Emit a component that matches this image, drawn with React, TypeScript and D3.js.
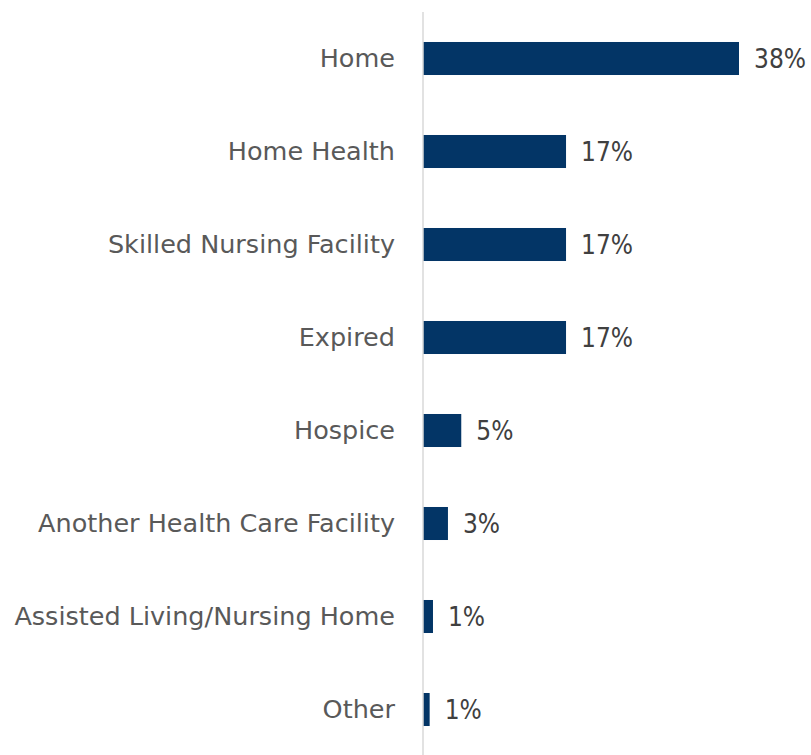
import React from 'react';
import * as d3 from 'd3';

const categories = [
  'Home',
  'Home Health',
  'Skilled Nursing Facility',
  'Expired',
  'Hospice',
  'Another Health Care Facility',
  'Assisted Living/Nursing Home',
  'Other',
];
const values = [38, 17.2, 17.2, 17.2, 4.6, 3, 1.2, 0.8];
const valueLabels = ['38%', '17%', '17%', '17%', '5%', '3%', '1%', '1%'];

const FONT = '"DejaVu Sans", sans-serif';
const VALUE_FONT = '"DejaVu Sans Condensed", sans-serif';

export default function App() {
  const width = 811;
  const height = 755;
  const margin = { top: 12, right: 20, bottom: 0, left: 423 };

  const x = d3.scaleLinear().domain([0, 38]).range([margin.left, 739]);
  const y = d3
    .scaleBand()
    .domain(categories)
    .range([margin.top, margin.top + 93 * categories.length])
    .paddingInner(0.645)
    .paddingOuter(0.3225);

  return (
    <svg
      width={width}
      height={height}
      style={{ position: 'absolute', left: 0, top: 0, background: '#fff' }}
      fontFamily={FONT}
    >
      {categories.map((c, i) => {
        const yc = (y(c) as number) + y.bandwidth() / 2;
        return (
          <g key={c}>
            <rect
              x={x(0)}
              y={y(c)}
              width={x(values[i]) - x(0)}
              height={y.bandwidth()}
              fill="#033566"
            />
            <text
              x={margin.left - 28}
              y={yc}
              dy="0.35em"
              textAnchor="end"
              fontSize={25.5}
              fill="#595959"
            >
              {c}
            </text>
            <text
              x={x(values[i]) + 15}
              y={yc}
              dy="0.37em"
              fontSize={26}
              fontFamily={VALUE_FONT}
              fill="#404040"
            >
              {valueLabels[i]}
            </text>
          </g>
        );
      })}
      <line
        x1={x(0)}
        x2={x(0)}
        y1={margin.top}
        y2={height}
        stroke="#d9d9d9"
        strokeWidth={1.5}
      />
    </svg>
  );
}
